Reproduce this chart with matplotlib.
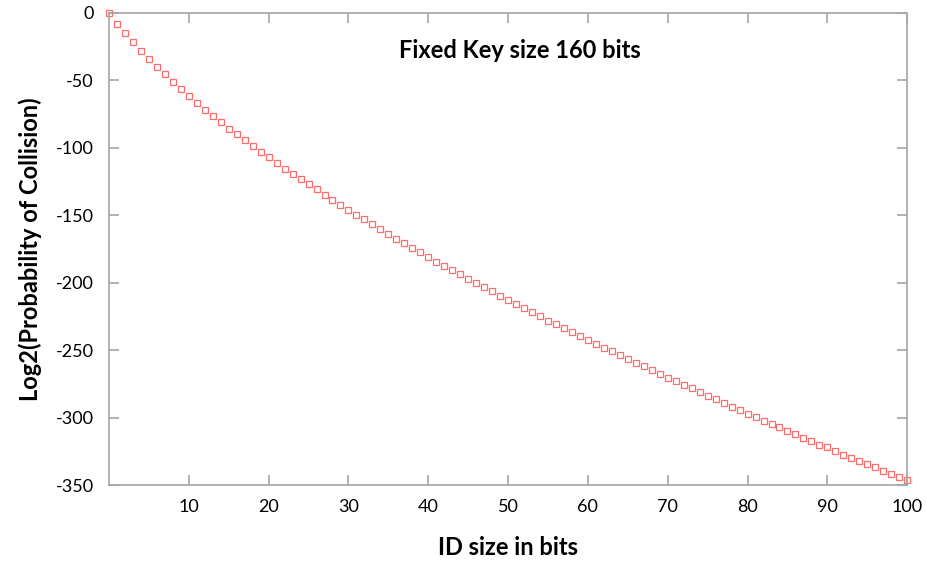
import matplotlib.pyplot as plt
import numpy as np

plt.rcParams['font.family'] = ['Lato', 'DejaVu Sans']
plt.rcParams['axes.unicode_minus'] = False

# ID size in bits, 0..100
id_bits = np.arange(0, 101)

# log2 of collision probability
log2_p = [
    0.0, -8.2, -15.1, -22.0, -28.4, -34.4, -40.6, -45.8, -51.5, -56.9,
    -61.9, -66.6, -71.8, -76.5, -81.0, -85.9, -90.1, -94.6, -99.0, -103.2,
    -107.1, -111.3, -115.5, -119.5, -123.4, -127.1, -130.8, -134.8, -138.5, -142.5,
    -145.9, -149.9, -153.2, -156.9, -160.4, -164.1, -167.5, -170.8, -174.2, -177.7,
    -180.9, -184.4, -187.6, -190.5, -193.8, -197.1, -200.2, -203.4, -206.4, -209.6,
    -212.8, -215.8, -218.7, -222.0, -225.0, -228.1, -230.9, -233.9, -236.5, -239.5,
    -242.5, -245.4, -248.2, -250.9, -253.6, -256.6, -259.3, -262.0, -264.8, -267.7,
    -270.4, -272.9, -275.6, -278.3, -281.0, -283.8, -286.5, -289.2, -292.0, -294.4,
    -297.2, -299.6, -302.4, -304.8, -307.3, -310.0, -312.3, -314.8, -317.4, -320.0,
    -322.1, -324.9, -327.4, -329.8, -332.0, -334.3, -337.0, -339.3, -341.7, -344.2,
    -346.4,
]

xticks = list(range(10, 101, 10))
yticks = list(range(0, -351, -50))

fig = plt.figure(figsize=(9.26, 5.63), dpi=100)
ax = fig.add_axes([0.1177, 0.1385, 0.862, 0.839])

ax.plot(id_bits, log2_p, linestyle='none', marker='s', markersize=4.3,
        markerfacecolor='none', markeredgecolor='#ff3b3b', markeredgewidth=0.9,
        alpha=0.75, clip_on=False)

ax.set_xlim(0, 100)
ax.set_ylim(-350, 0)
ax.set_xticks(xticks)
ax.set_yticks(yticks)

for s in ax.spines.values():
    s.set_color('#a6a6a6')
    s.set_linewidth(1.2)
ax.tick_params(direction='in', length=7, width=1.2, color='#a6a6a6',
               top=True, right=True, labelsize=13, labelcolor='black')
ax.tick_params(axis='x', pad=10)
ax.tick_params(axis='y', pad=11)

ax.text(0.515, 0.92, 'Fixed Key size 160 bits', transform=ax.transAxes,
        ha='center', va='center', fontsize=17, fontweight='bold')
ax.set_xlabel('ID size in bits', fontsize=17, fontweight='bold', labelpad=15)
ax.set_ylabel('Log2(Probability of Collision)', fontsize=17, fontweight='bold',
              labelpad=10)

fig.savefig('out.png', dpi=100)
